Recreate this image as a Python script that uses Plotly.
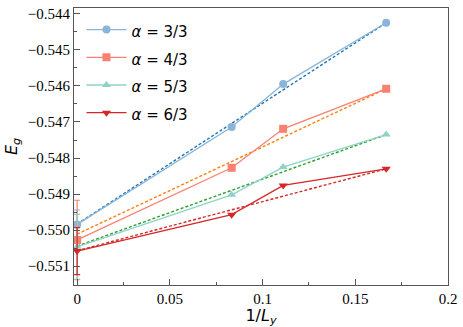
import plotly.graph_objects as go

# 1/Ly values
invLy = [0.0, 1/12, 1/9, 1/6]

# ground-state energies
E_a33 = [-0.54984, -0.54714, -0.54595, -0.54425]
E_a43 = [-0.55027, -0.54827, -0.54719, -0.54608]
E_a53 = [-0.55046, -0.54902, -0.54825, -0.54735]
E_a63 = [-0.55058, -0.54957, -0.54876, -0.54830]

# error bars (only the extrapolated point has one)
err_a33 = [0.0004, 0, 0, 0]
err_a43 = [0.0011, 0, 0, 0]
err_a53 = [0.0009, 0, 0, 0]
err_a63 = [0.00065, 0, 0, 0]

# linear fits, endpoints at 1/Ly = 0 and 1/6
fit_x = [0.0, 1/6]
fit_a33 = [-0.54983, -0.54425]
fit_a43 = [-0.55011, -0.54608]
fit_a53 = [-0.55044, -0.54735]
fit_a63 = [-0.55057, -0.54830]

labels = ["<i>α</i> = 3/3", "<i>α</i> = 4/3", "<i>α</i> = 5/3", "<i>α</i> = 6/3"]
pt_colors = ["#8ab4d8", "#fa8072", "#8fd3c8", "#d62728"]
fit_colors = ["#1f77b4", "#ff7f0e", "#2ca02c", "#d62728"]
symbols = ["circle", "square", "triangle-up", "triangle-down"]

fig = go.Figure()

allE = [E_a33, E_a43, E_a53, E_a63]
allErr = [err_a33, err_a43, err_a53, err_a63]
allFit = [fit_a33, fit_a43, fit_a53, fit_a63]

for i in range(4):
    fig.add_trace(go.Scatter(x=fit_x, y=allFit[i], mode="lines",
                             line=dict(color=fit_colors[i], width=1.4, dash="3px,2px"),
                             showlegend=False, hoverinfo="skip"))

for i in range(4):
    # bigger legend font only to get the row spacing, text itself at 15px
    nm = "<span style='font-size:15px'>" + labels[i] + "</span>"
    fig.add_trace(go.Scatter(x=invLy, y=allE[i], mode="lines+markers", name=nm,
                             line=dict(color=pt_colors[i], width=1.3),
                             marker=dict(symbol=symbols[i], size=8, color=pt_colors[i]),
                             error_y=dict(type="data", array=allErr[i], color=pt_colors[i],
                                          thickness=1.2, width=3)))

axcol = "#555555"
fig.update_layout(
    width=463, height=327,
    margin=dict(l=74, r=15, t=6, b=42),
    plot_bgcolor="white", paper_bgcolor="white",
    font=dict(family="Liberation Serif", size=15, color="black"),
    legend=dict(x=0.02, y=0.99, xanchor="left", yanchor="top",
                bgcolor="rgba(0,0,0,0)", tracegroupgap=0,
                font=dict(family="DejaVu Sans", size=19), itemwidth=40),
    xaxis=dict(range=[-0.0017, 0.2], tickvals=[0, 0.05, 0.1, 0.15, 0.2],
               ticktext=["0", "0.05", "0.1", "0.15", "0.2"],
               ticks="inside", ticklen=6, tickcolor=axcol,
               minor=dict(tickvals=[0.025, 0.075, 0.125, 0.175], ticks="inside",
                          ticklen=3, tickcolor=axcol),
               showline=True, linecolor=axcol, linewidth=1.2, mirror=True,
               showgrid=False, zeroline=False,
               title=dict(text="1/<i>L</i><sub><i>y</i></sub>", standoff=0,
                          font=dict(family="DejaVu Sans", size=16))),
    yaxis=dict(range=[-0.55152, -0.54384], dtick=0.001, tickformat=".3f",
               ticks="inside", ticklen=6, tickcolor=axcol,
               minor=dict(dtick=0.0005, ticks="inside", ticklen=3, tickcolor=axcol),
               showline=True, linecolor=axcol, linewidth=1.2, mirror=True,
               showgrid=False, zeroline=False,
               title=dict(text="<i>E</i><sub><i>g</i></sub>", standoff=6,
                          font=dict(family="DejaVu Sans", size=16))),
)

fig.write_html("out.html", config={"displayModeBar": False},
               post_script="document.body.style.margin='0';document.body.style.padding='0';")
